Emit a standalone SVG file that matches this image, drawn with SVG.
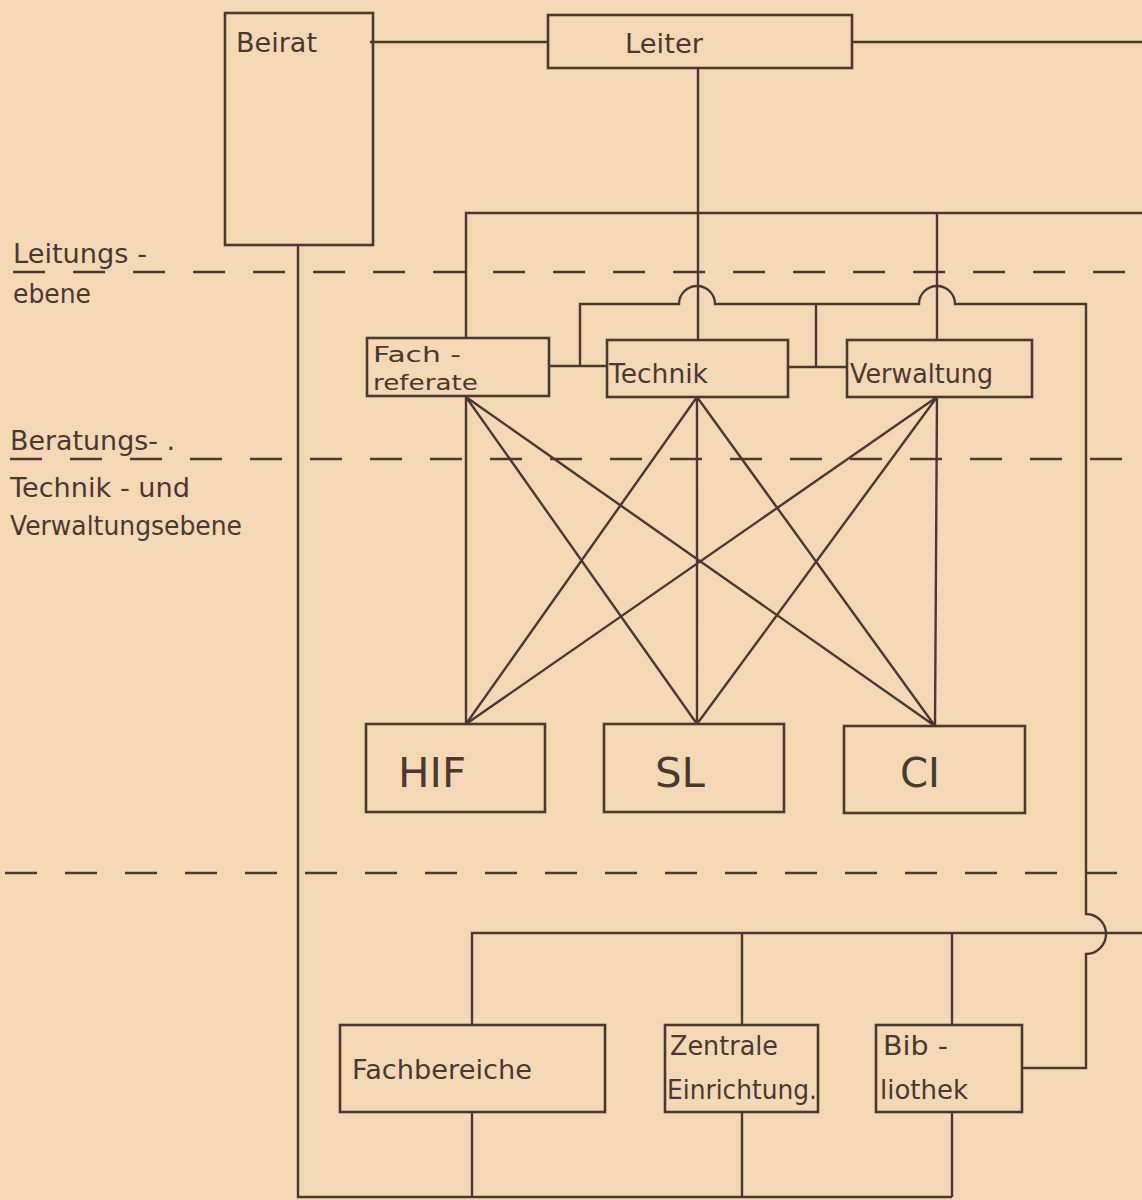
<svg xmlns="http://www.w3.org/2000/svg" width="1142" height="1200" viewBox="0 0 1142 1200">
<style>
.bg{fill:#f4d8b6}
.box{fill:none;stroke:#4a3a2e;stroke-width:2.6}
.ln{fill:none;stroke:#4a3a2e;stroke-width:2.4}
.dash{fill:none;stroke:#4a3a2e;stroke-width:2.4;stroke-dasharray:32 28}
text{font-family:"DejaVu Sans","Liberation Sans",sans-serif;fill:#4a3a2e;font-size:26px}
.big{font-size:40px}
.sm{font-size:22px}
</style>
<rect class="bg" x="0" y="0" width="1142" height="1200"/>
<g id="levels">
<line class="dash" x1="13" y1="272" x2="1142" y2="272"/>
<line class="dash" x1="10" y1="459" x2="1142" y2="459"/>
<line class="dash" x1="5" y1="873" x2="1142" y2="873"/>
<text x="13" y="263" textLength="134" lengthAdjust="spacingAndGlyphs">Leitungs -</text>
<text x="13" y="303" textLength="78" lengthAdjust="spacingAndGlyphs">ebene</text>
<text x="10" y="450" textLength="165" lengthAdjust="spacingAndGlyphs">Beratungs- .</text>
<text x="10" y="497" textLength="180" lengthAdjust="spacingAndGlyphs">Technik - und</text>
<text x="10" y="535" textLength="232" lengthAdjust="spacingAndGlyphs">Verwaltungsebene</text>
</g>
<g id="connectors">
<path class="ln" d="M370,42 H548"/>
<path class="ln" d="M852,42 H1142"/>
<path class="ln" d="M698,68 V339"/>
<path class="ln" d="M466,338 V213 H1142"/>
<path class="ln" d="M937,213 V340"/>
<path class="ln" d="M549,366 H607"/>
<path class="ln" d="M788,367 H847"/>
<path class="ln" d="M580,366 V304 H679 A18,18 0 0 1 715,304 H919 A18,18 0 0 1 955,304 H1086 V914 A20,20 0 0 1 1086,954 V1068 H1022"/>
<path class="ln" d="M816,304 V367"/>
<path class="ln" d="M466,397 L466,724 M466,397 L697,724 M466,397 L935,726 M697,397 L466,724 M697,397 L697,724 M697,397 L935,726 M937,397 L466,724 M937,397 L697,724 M937,397 L935,726"/>
<path class="ln" d="M472,1025 V933 H1142"/>
<path class="ln" d="M742,933 V1025"/>
<path class="ln" d="M952,933 V1025"/>
<path class="ln" d="M298,245 V1197 H952"/>
<path class="ln" d="M472,1112 V1197"/>
<path class="ln" d="M742,1112 V1197"/>
<path class="ln" d="M952,1112 V1197"/>
</g>
<g id="beirat">
<rect class="box" x="225" y="13" width="148" height="232"/>
<text x="236" y="52" textLength="81" lengthAdjust="spacingAndGlyphs">Beirat</text>
</g>
<g id="leiter">
<rect class="box" x="548" y="15" width="304" height="53"/>
<text x="625" y="53" textLength="78" lengthAdjust="spacingAndGlyphs">Leiter</text>
</g>
<g id="fachreferate">
<rect class="box" x="367" y="338" width="182" height="58"/>
<text class="sm" x="373" y="362" textLength="88" lengthAdjust="spacingAndGlyphs">Fach -</text>
<text class="sm" x="373" y="390" textLength="105" lengthAdjust="spacingAndGlyphs">referate</text>
</g>
<g id="technik">
<rect class="box" x="607" y="340" width="181" height="57"/>
<text x="609" y="383" textLength="99" lengthAdjust="spacingAndGlyphs">Technik</text>
</g>
<g id="verwaltung">
<rect class="box" x="847" y="340" width="185" height="57"/>
<text x="850" y="383" textLength="143" lengthAdjust="spacingAndGlyphs">Verwaltung</text>
</g>
<g id="hif">
<rect class="box" x="366" y="724" width="179" height="88"/>
<text class="big" x="398" y="787" textLength="68" lengthAdjust="spacingAndGlyphs">HIF</text>
</g>
<g id="sl">
<rect class="box" x="604" y="724" width="180" height="88"/>
<text class="big" x="655" y="787" textLength="50" lengthAdjust="spacingAndGlyphs">SL</text>
</g>
<g id="ci">
<rect class="box" x="844" y="726" width="181" height="87"/>
<text class="big" x="900" y="787" textLength="40" lengthAdjust="spacingAndGlyphs">CI</text>
</g>
<g id="fachbereiche">
<rect class="box" x="340" y="1025" width="265" height="87"/>
<text x="352" y="1079" textLength="180" lengthAdjust="spacingAndGlyphs">Fachbereiche</text>
</g>
<g id="zentrale">
<rect class="box" x="665" y="1025" width="153" height="87"/>
<text x="670" y="1055" textLength="108" lengthAdjust="spacingAndGlyphs">Zentrale</text>
<text x="667" y="1099" textLength="150" lengthAdjust="spacingAndGlyphs">Einrichtung.</text>
</g>
<g id="bibliothek">
<rect class="box" x="876" y="1025" width="146" height="87"/>
<text x="883" y="1055" textLength="65" lengthAdjust="spacingAndGlyphs">Bib -</text>
<text x="880" y="1099" textLength="88" lengthAdjust="spacingAndGlyphs">liothek</text>
</g>
</svg>
